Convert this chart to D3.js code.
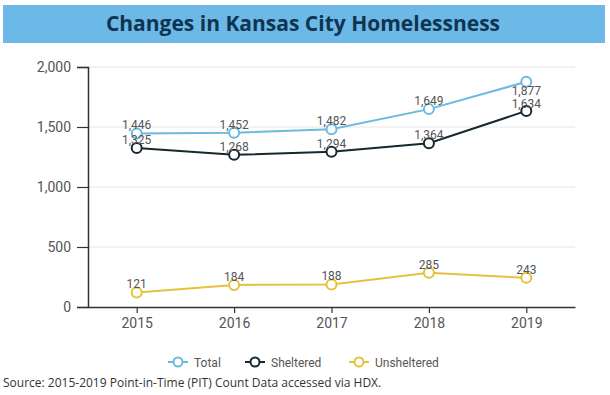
<!DOCTYPE html>
<html><head><meta charset="utf-8">
<script src="https://cdn.jsdelivr.net/npm/d3@7"></script>
<style>body{margin:0;background:#fff;}svg{display:block;}</style>
</head><body>
<svg id="c" width="610" height="395"></svg>
<script>
const years = ["2015","2016","2017","2018","2019"];
const total = [1446,1452,1482,1649,1877];
const sheltered = [1325,1268,1294,1364,1634];
const unsheltered = [121,184,188,285,243];
const yTicks = [0,500,1000,1500,2000];
const seriesNames = ["Total","Sheltered","Unsheltered"];
const seriesColors = ["#6cb9e2","#16282f","#e6c23c"];

const svg = d3.select("#c");
svg.append("rect").attr("x",3).attr("y",5).attr("width",602).attr("height",38).attr("fill","#6cb8e6");
svg.append("text").attr("x",303).attr("y",31).attr("text-anchor","middle")
  .attr("font-family","Open Sans").attr("font-weight","bold").attr("font-size",21)
  .attr("fill","#0f3450").text("Changes in Kansas City Homelessness");

const x = d3.scalePoint().domain(years).range([88,575]).padding(0.5);
const y = d3.scaleLinear().domain([0,2000]).range([307,67]);

// grid
svg.append("g").selectAll("line").data(yTicks.slice(1)).join("line")
  .attr("x1",88).attr("x2",575).attr("y1",d=>y(d)).attr("y2",d=>y(d))
  .attr("stroke","#e6e6e6").attr("stroke-width",1);

const ya = svg.append("g").attr("transform","translate(88,0)")
  .call(d3.axisLeft(y).tickValues(yTicks).tickFormat(d3.format(",")).tickSize(11).tickPadding(6));
ya.select(".domain").attr("stroke","#333").attr("stroke-width",1.5);
ya.selectAll(".tick line").attr("stroke","#333").attr("stroke-width",1.2);
ya.selectAll("text").attr("font-family","Roboto").attr("font-size",14).attr("fill","#555");

const xa = svg.append("g").attr("transform","translate(0,307)")
  .call(d3.axisBottom(x).tickSize(6).tickPadding(5).tickSizeOuter(0));
xa.select(".domain").attr("stroke","#333").attr("stroke-width",1.5);
xa.selectAll(".tick line").attr("stroke","#333").attr("stroke-width",1.2);
xa.selectAll("text").attr("font-family","Roboto").attr("font-size",14).attr("fill","#555");

const series = [total, sheltered, unsheltered];
const line = d3.line().x((d,i)=>x(years[i])).y(d=>y(d));
series.forEach((s,k)=>{
  svg.append("path").datum(s).attr("d",line).attr("fill","none")
    .attr("stroke",seriesColors[k]).attr("stroke-width",2);
  svg.append("g").selectAll("circle").data(s).join("circle")
    .attr("cx",(d,i)=>x(years[i])).attr("cy",d=>y(d)).attr("r",5)
    .attr("fill","#fff").attr("stroke",seriesColors[k]).attr("stroke-width",2);
});
series.forEach((s,k)=>{
  svg.append("g").selectAll("text").data(s).join("text")
    .attr("x",(d,i)=>x(years[i]))
    .attr("y",(d,i)=>(k===0&&i===4)? y(d)+13 : (k===1&&i===4) ? y(d)-3 : y(d)-4)
    .attr("text-anchor","middle").attr("font-family","Roboto").attr("font-size",12)
    .attr("fill","#555").text(d=>d3.format(",")(d));
});

// legend
const legX = [168,245,349];
seriesNames.forEach((n,k)=>{
  const g = svg.append("g").attr("transform",`translate(${legX[k]},362)`);
  g.append("line").attr("x1",0).attr("x2",20).attr("y1",0).attr("y2",0)
    .attr("stroke",seriesColors[k]).attr("stroke-width",2);
  g.append("circle").attr("cx",10).attr("cy",0).attr("r",4.5).attr("fill","#fff")
    .attr("stroke",seriesColors[k]).attr("stroke-width",2);
  g.append("text").attr("x",26).attr("y",4.5).attr("font-family","Roboto").attr("font-size",12)
    .attr("fill","#555").text(n);
});

svg.append("text").attr("x",3).attr("y",387).attr("font-family","Open Sans").attr("font-size",12)
  .attr("fill","#333").text("Source: 2015-2019 Point-in-Time (PIT) Count Data accessed via HDX.");
</script>
</body></html>
